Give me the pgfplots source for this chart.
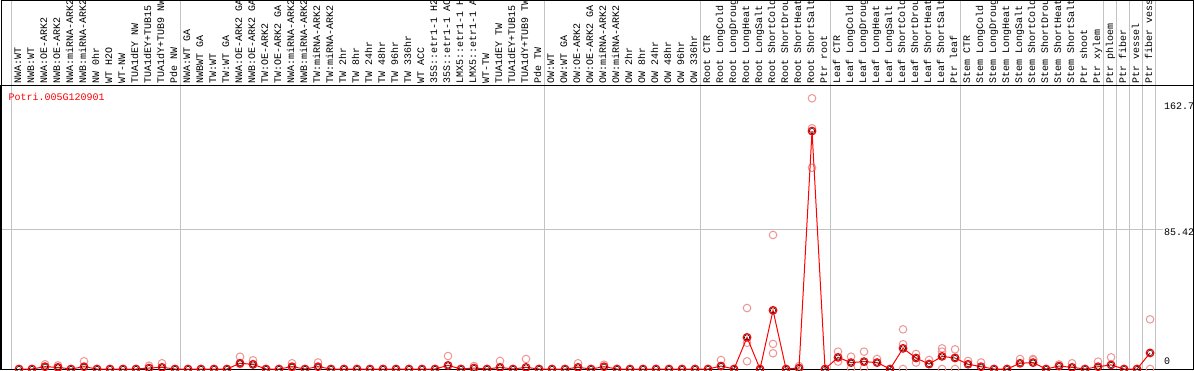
\documentclass[border=0pt]{standalone}
\usepackage{pgfplots}
\usepackage{pgfplotstable}
\pgfplotsset{compat=1.18}
\usepackage{fontspec}
\setmainfont{Liberation Mono}
\definecolor{lightred}{RGB}{238,150,150}
\definecolor{gridgray}{RGB}{195,195,195}

\pgfplotstableread{
x y
1 0
2 0
3 1.4
4 1.0
5 0
6 1.4
7 0
8 0
9 0
10 0
11 0.6
12 1.0
13 0
14 0
15 0
16 0
17 0
18 3.5
19 2.8
20 0
21 0
22 1.4
23 0
24 1.4
25 0
26 0
27 0
28 0
29 0
30 0
31 0
32 0
33 0
34 2.2
35 0
36 0.6
37 0
38 1.0
39 0
40 1.0
41 0
42 0
43 0
44 1.0
45 0
46 1.4
47 0
48 0
49 0
50 0
51 0
52 0
53 0
54 0
55 1.8
56 0
57 19.3
58 0
59 35.8
60 0
61 0.6
62 145.2
63 0
64 7.1
65 3.9
66 4.5
67 3.9
68 0
69 12.6
70 6.7
71 3.0
72 7.7
73 6.7
74 2.9
75 1.4
76 0
77 0
78 3.5
79 3.9
80 0
81 1.8
82 1.0
83 0
84 1.4
85 2.5
86 0
87 0
88 9.8
}\means

\pgfplotstableread{
x y
3 2.9
3 1.4
4 2.2
4 0.8
6 4.7
11 2.0
12 3.5
18 7.5
18 3.0
19 5.3
19 3.0
22 3.5
22 0.8
24 4.0
34 7.9
36 1.8
38 4.9
40 6.1
44 3.5
46 2.6
55 5.5
57 37.2
57 16.0
57 4.7
59 81.8
59 15.3
59 9.6
61 1.8
62 165.2
62 146.9
62 122.8
64 10.6
64 4.5
65 7.5
65 0.5
66 10.6
66 0.5
67 6.1
69 24.2
69 15.1
69 0
70 9.2
70 3.9
71 5.5
71 3.0
72 12.6
72 10.6
72 0
73 12.0
73 7.0
73 0
74 4.9
75 4.0
78 6.1
79 6.1
79 5.5
81 2.8
82 3.5
84 4.5
85 7.1
88 30.3
88 0
}\reps

\begin{document}
\begin{tikzpicture}[x=1pt,y=1pt]
\useasboundingbox (0,0) rectangle (1194,370);
\clip (0,0) rectangle (1194,370);
\fill[white] (0,0) rectangle (1194,370);
\foreach \k in {1,14,42,54,64,74,85,86,87,88,89} {
  \draw[gridgray, line width=1pt] ({13*\k-1.8},0) -- ({13*\k-1.8},370);
}
\draw[gridgray, line width=1pt] (1,141) -- (1163,141);
\begin{axis}[
  at={(1pt,1pt)}, anchor=south west, scale only axis,
  width=1192pt, height=284pt,
  xmin=-0.3846, xmax=91.308, ymin=0, ymax=173.3,
  axis line style={line width=1pt},
  xtick={1,...,88},
  xticklabels={NWA:WT,NWB:WT,NWA:OE-ARK2,NWB:OE-ARK2,NWA:miRNA-ARK2,NWB:miRNA-ARK2,NW 0hr,WT H2O,WT-NW,TUA1dEY NW,TUA1dEY+TUB15 NW,TUA1dY+TUB9 NW,Pde NW,NWA:WT GA,NWBWT GA,TW:WT,TW:WT GA,NWA:OE-ARK2 GA,NWB:OE-ARK2 GA,TW:OE-ARK2,TW:OE-ARK2 GA,NWA:miRNA-ARK2 GA,NWB:miRNA-ARK2 GA,TW:miRNA-ARK2,TW:miRNA-ARK2 GA,TW 2hr,TW 8hr,TW 24hr,TW 48hr,TW 96hr,TW 336hr,WT ACC,35S::etr1-1 H2O,35S::etr1-1 ACC,LMX5::etr1-1 H2O,LMX5::etr1-1 ACC,WT-TW,TUA1dEY TW,TUA1dEY+TUB15 TW,TUA1dY+TUB9 TW,Pde TW,OW:WT,OW:WT GA,OW:OE-ARK2,OW:OE-ARK2 GA,OW:miRNA-ARK2,OW:miRNA-ARK2 GA,OW 2hr,OW 8hr,OW 24hr,OW 48hr,OW 96hr,OW 336hr,Root CTR,Root LongCold,Root LongDrought,Root LongHeat,Root LongSalt,Root ShortCold,Root ShortDrought,Root ShortHeat,Root ShortSalt,Ptr root,Leaf CTR,Leaf LongCold,Leaf LongDrought,Leaf LongHeat,Leaf LongSalt,Leaf ShortCold,Leaf ShortDrought,Leaf ShortHeat,Leaf ShortSalt,Ptr leaf,Stem CTR,Stem LongCold,Stem LongDrought,Stem LongHeat,Stem LongSalt,Stem ShortCold,Stem ShortDrought,Stem ShortHeat,Stem ShortSalt,Ptr shoot,Ptr xylem,Ptr phloem,Ptr fiber,Ptr vessel,Ptr fiber vessel},
  xticklabel pos=right,
  x tick label style={font=\fontsize{10}{12}\selectfont, inner sep=0pt, xshift=2pt, yshift=1.5pt, rotate=90, anchor=base west},
  major tick length=0pt,
  ytick=\empty,
  clip mode=individual,
]
\addplot[only marks, mark=o, mark size=3.8pt, lightred, mark options={line width=1pt}] table[x=x,y=y] {\reps};
\addplot[red, line width=1pt, mark=o, mark size=3.8pt, mark options={line width=1.2pt}] table[x=x,y=y] {\means};
\addplot[only marks, mark=o, mark size=2.6pt, black, mark options={line width=0.5pt}] table[x=x,y=y] {\means};
\end{axis}
\draw[line width=1pt] (1,1) -- (1,369.5) -- (1193,369.5) -- (1193,1);
\node[anchor=base west, red, inner sep=0pt, font=\fontsize{10}{12}\selectfont] at (8.5,269) {Potri.005G120901};
\node[anchor=west, inner sep=0pt, font=\fontsize{10}{12}\selectfont] at (1164,263.3) {162.7};
\node[anchor=west, inner sep=0pt, font=\fontsize{10}{12}\selectfont] at (1164,137.7) {85.42};
\node[anchor=west, inner sep=0pt, font=\fontsize{10}{12}\selectfont] at (1164,8.3) {0};
\end{tikzpicture}
\end{document}
